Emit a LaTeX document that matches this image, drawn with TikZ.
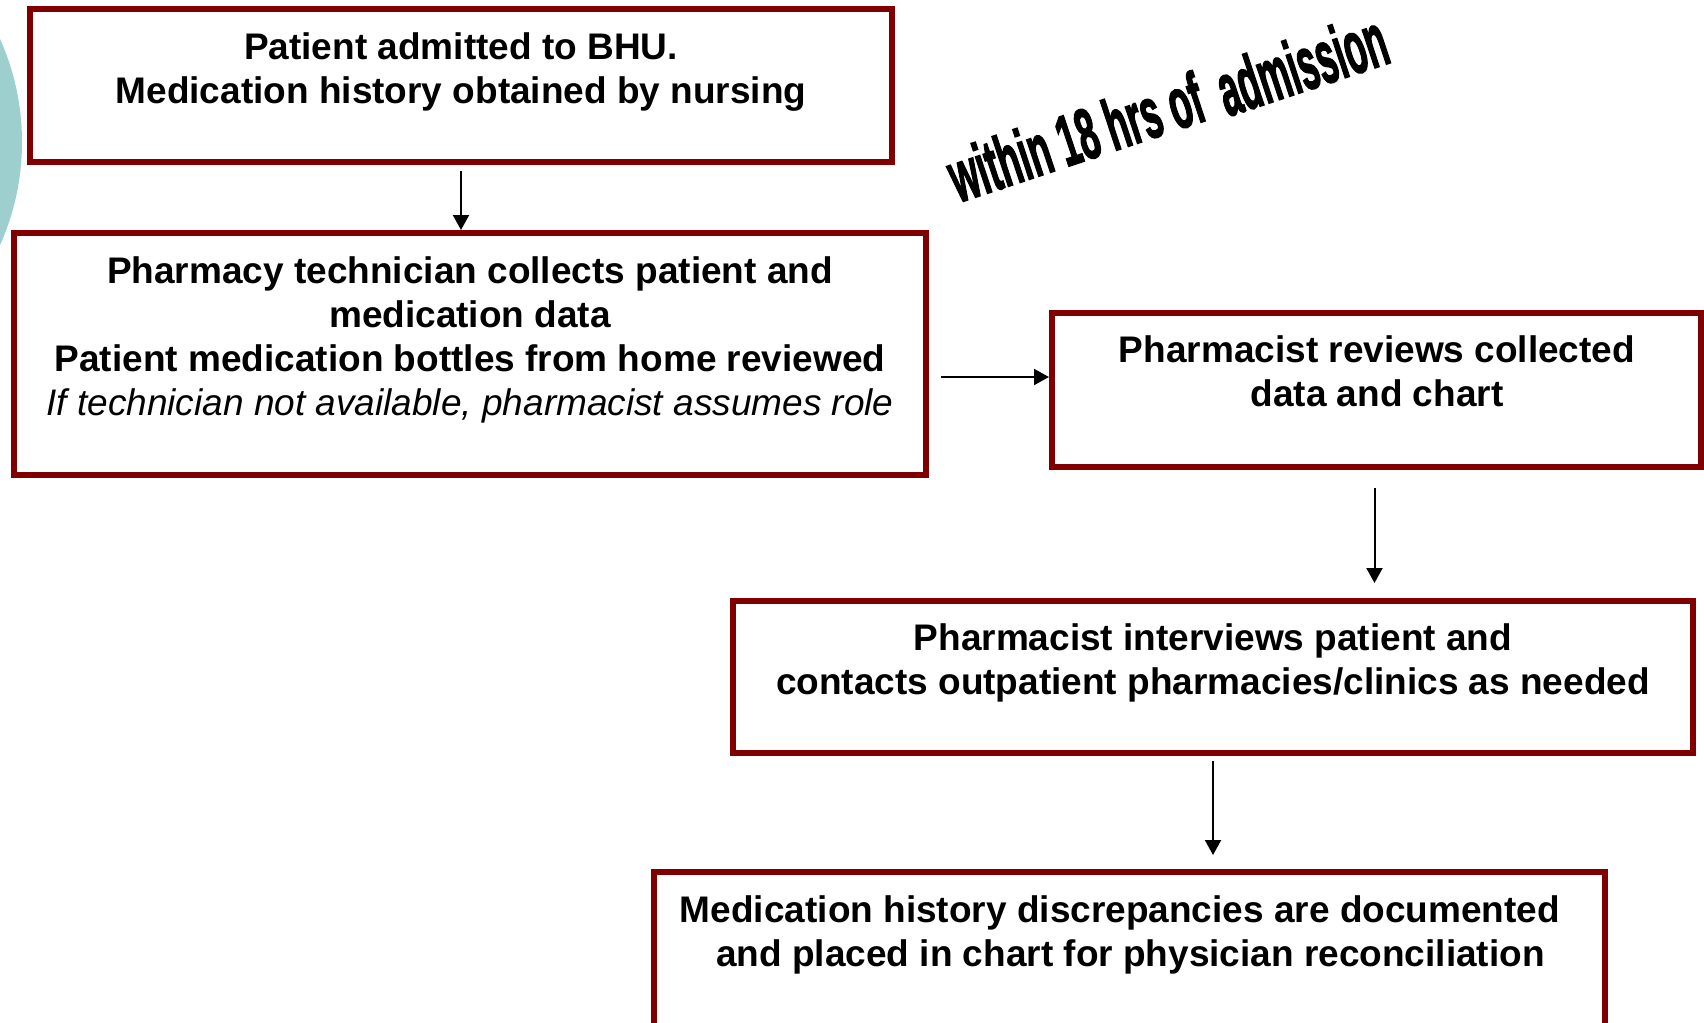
\documentclass[tikz,border=0pt]{standalone}
\usepackage{fontspec}
\setmainfont{Liberation Sans}
\newfontfamily\wafont[FakeBold=2.5]{Liberation Sans Bold}
\usetikzlibrary{arrows.meta,calc}
\definecolor{boxred}{HTML}{800000}
\definecolor{circteal}{HTML}{9ECFCF}
\begin{document}
\begin{tikzpicture}[x=0.5pt,y=-0.5pt,
  flowbox/.style={draw=boxred, line width=3pt, fill=white, inner sep=0pt},
  txt/.style={align=center, font=\bfseries\fontsize{18.5}{22}\selectfont, inner sep=0pt},
  wordart/.style={anchor=base west, rotate=18.4, inner sep=0pt},
  arr/.style={line width=1pt, -{Triangle[length=7.5pt,width=8pt]}}]
\useasboundingbox (0,0) rectangle (1704,1023);
% decorative circle at left
\fill[circteal] (-230,142) circle[radius=126pt];
% boxes
\node[flowbox, minimum width=431pt, minimum height=76.5pt] (box1) at (461,85.5) {};
\node[flowbox, minimum width=456pt, minimum height=121pt] (box2) at (470,354) {};
\node[flowbox, minimum width=324.5pt, minimum height=77pt] (box3) at (1376.5,390) {};
\node[flowbox, minimum width=480pt, minimum height=76pt] (box4) at (1213,677) {};
\node[flowbox, minimum width=475.5pt, minimum height=94pt] (box5) at (1129.5,966) {};
% texts
\node[txt] (t1) at (461,72) {Patient admitted to BHU.\\Medication history obtained by nursing};
\node[txt] (t2) at (470,339.5) {Pharmacy technician collects patient and\\medication data\\Patient medication bottles from home reviewed\\{\mdseries\itshape If technician not available, pharmacist assumes role}};
\node[txt] (t3) at (1377,371) {Pharmacist reviews collected\\data and chart};
\node[txt] (t4) at (1213,663) {Pharmacist interviews patient and\\contacts outpatient pharmacies/clinics as needed};
\node[txt] (t5) at (1125,934.5) {Medication history discrepancies are documented\hspace*{5pt}\\\hspace*{5.5pt}and placed in chart for physician reconciliation};
% word art
\node[wordart] (wa1) at (958,203)
  {\scalebox{0.5}[1]{\wafont\fontsize{36}{40}\selectfont within 18 hrs of}};
\node[wordart] (wa2) at (1227,117)
  {\scalebox{0.47}[1]{\wafont\fontsize{37.5}{40}\selectfont admission}};
% connectors
\draw[arr, shorten <=3pt] (box1.south) -- (box1.south |- box2.north);
\draw[arr, shorten <=6pt] ([yshift=-11.5pt]box2.east) -- ([yshift=-11.5pt]box2.east -| box3.west);
\draw[arr, shorten <=9pt, shorten >=7.5pt] ([xshift=-1pt]box3.south) -- ([xshift=-1pt]box3.south |- box4.north);
\draw[arr, shorten <=2.5pt, shorten >=7pt] (box4.south) -- (box4.south |- box5.north);
\end{tikzpicture}
\end{document}
